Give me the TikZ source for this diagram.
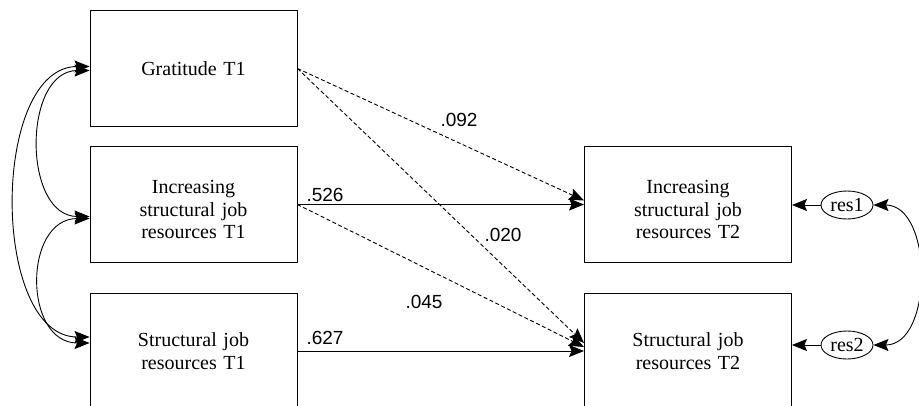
\documentclass[tikz,border=0pt]{standalone}
\usepackage{fontspec}
\setmainfont{Liberation Serif}
\newfontfamily\coeffont{Liberation Sans}
\usetikzlibrary{arrows.meta,shapes.geometric}

\tikzset{
  var/.style={draw, minimum width=207pt, minimum height=116pt, text width=195pt,
    align=center, font=\fontsize{20}{22.5}\selectfont},
  lowered/.style={execute at begin node={\rule{0pt}{23.7pt}}},
  res/.style={draw, ellipse, inner sep=0pt, minimum width=52pt, minimum height=28pt,
    font=\fontsize{20}{22}\selectfont},
  coef/.style={font=\coeffont\fontsize{19}{22}\selectfont},
  effect/.style={-{Stealth[length=15pt,width=12pt,inset=2.5pt]}},
  cov/.style={{Stealth[length=15pt,width=12pt,inset=2.5pt]}-{Stealth[length=15pt,width=12pt,inset=2.5pt]}},
  weak/.style={effect, dash pattern=on 4pt off 2.5pt}
}

\begin{document}
\begin{tikzpicture}[x=1pt, y=-1pt, line width=0.9pt]
  \clip (0,0) rectangle (919,405);
  \node[var] (g) at (193.5,68.5) {Gratitude T1};
  \node[var, lowered] (i1) at (193.5,204.5) {Increasing\\structural job\\resources T1};
  \node[var] (s1) at (193.5,351) {Structural job\\resources T1};
  \node[var, lowered] (i2) at (688,204.5) {Increasing\\structural job\\resources T2};
  \node[var] (s2) at (688,351) {Structural job\\resources T2};
  \node[res] (r1) at (847,205) {res1};
  \node[res] (r2) at (847,345) {res2};

  \draw[effect] (i1.east) -- (i2.west);
  \draw[effect] (s1.east) -- (s2.west);
  \draw[weak] (g.east) -- ([yshift=4pt]i2.west);
  \draw[weak] (g.east) -- ([yshift=8pt]s2.west);
  \draw[weak] (i1.east) -- ([yshift=4pt]s2.west);
  \draw[effect] (r1.west) -- (r1.west -| i2.east);
  \draw[effect] (r2.west) -- (r2.west -| s2.east);

  \draw[cov] ([yshift=-2pt]g.west) to[out=180, in=180, looseness=1.18] ([yshift=-12pt]i1.west);
  \draw[cov] ([yshift=2pt]g.west) to[out=180, in=180, looseness=0.94] ([yshift=14pt]s1.west);
  \draw[cov] ([yshift=-14pt]i1.west) to[out=180, in=180, looseness=1.37] ([yshift=8pt]s1.west);
  \draw[cov] (r1.east) to[out=0, in=0, looseness=1.1] (r2.east);

  \node[coef] (c1) at (459,120) {.092};
  \node[coef] (c2) at (325,195) {.526};
  \node[coef] (c3) at (503,235) {.020};
  \node[coef] (c4) at (424,302) {.045};
  \node[coef] (c5) at (325,338) {.627};
\end{tikzpicture}
\end{document}
